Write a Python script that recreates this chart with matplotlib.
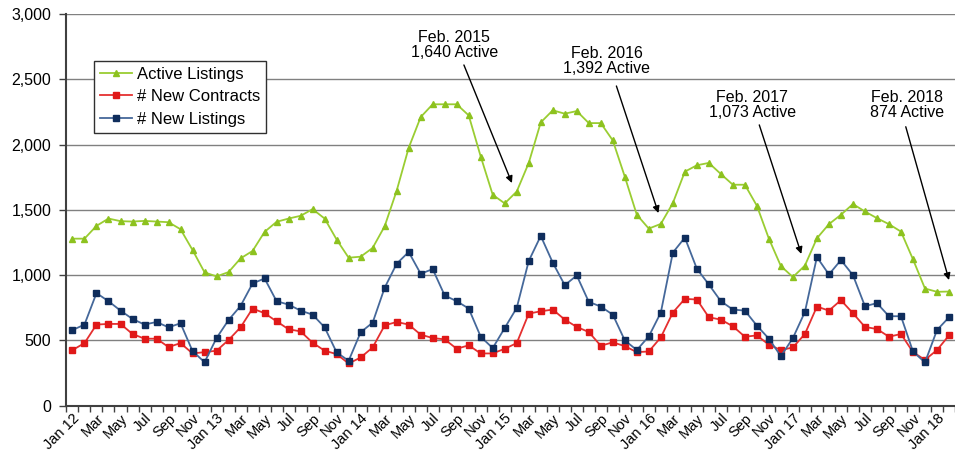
import numpy as np
import matplotlib.pyplot as plt

plt.rcParams['font.family'] = ['Liberation Sans', 'DejaVu Sans']

# monthly series, Jan 2012 .. Feb 2018
active_listings = [
    1279, 1279, 1377, 1433, 1413, 1410, 1415, 1410, 1405, 1351, 1192, 1021,
    990, 1023, 1128, 1185, 1331, 1408, 1433, 1454, 1505, 1433, 1272, 1133,
    1141, 1208, 1374, 1646, 1974, 2210, 2308, 2308, 2308, 2223, 1908, 1615,
    1549, 1640, 1859, 2169, 2262, 2236, 2256, 2164, 2164, 2031, 1754, 1462,
    1356, 1392, 1551, 1792, 1841, 1859, 1774, 1692, 1692, 1531, 1279, 1069,
    985, 1073, 1282, 1390, 1462, 1544, 1487, 1436, 1390, 1333, 1121, 897,
    872, 874,
]
new_contracts = [
    426, 479, 621, 626, 626, 549, 513, 513, 449, 479, 400, 410,
    421, 503, 600, 744, 708, 646, 585, 569, 482, 421, 395, 323,
    369, 446, 615, 641, 621, 544, 518, 508, 436, 462, 400, 400,
    436, 479, 705, 723, 736, 659, 603, 564, 459, 485, 456, 410,
    415, 523, 713, 818, 813, 677, 659, 608, 528, 538, 467, 426,
    446, 549, 759, 728, 808, 708, 603, 587, 528, 549, 410, 351,
    426, 538,
]
new_listings = [
    579, 621, 862, 800, 728, 664, 621, 641, 600, 631, 418, 333,
    518, 656, 764, 936, 974, 800, 774, 728, 697, 600, 408, 344,
    562, 636, 903, 1087, 1177, 1010, 1046, 844, 800, 744, 528, 441,
    595, 749, 1108, 1300, 1095, 923, 997, 795, 759, 697, 500, 426,
    531, 713, 1172, 1287, 1049, 928, 800, 736, 728, 613, 513, 379,
    518, 718, 1138, 1005, 1115, 1000, 762, 785, 685, 685, 415, 331,
    579, 677,
]

# every other month gets a label
tick_labels = [
    "Jan 12", "Mar", "May", "Jul", "Sep", "Nov",
    "Jan 13", "Mar", "May", "Jul", "Sep", "Nov",
    "Jan 14", "Mar", "May", "Jul", "Sep", "Nov",
    "Jan 15", "Mar", "May", "Jul", "Sep", "Nov",
    "Jan 16", "Mar", "May", "Jul", "Sep", "Nov",
    "Jan 17", "Mar", "May", "Jul", "Sep", "Nov",
    "Jan 18",
]

# February callouts: (label, month index, value)
callouts = [
    ("Feb. 2015\n1,640 Active", 37, 1640),
    ("Feb. 2016\n1,392 Active", 49, 1392),
    ("Feb. 2017\n1,073 Active", 61, 1073),
    ("Feb. 2018\n874 Active", 73, 874),
]
# text centre and arrow start/tip for each callout, in (month, value)
callout_text_xy = [(31.8, 2763), (44.5, 2640), (56.6, 2306), (69.5, 2299)]
callout_arrow = [
    ((32.6, 2609), (36.6, 1705)),
    ((45.3, 2448), (48.8, 1475)),
    ((57.2, 2150), (60.7, 1162)),
    ((69.4, 2136), (73.0, 962)),
]

x = np.arange(len(active_listings))

fig = plt.figure(figsize=(9.55, 4.55), dpi=100)
ax = fig.add_axes([0.0696, 0.1084, 0.9304, 0.861])

ax.plot(x, active_listings, color='#9ACD32', lw=1.3, marker='^',
        markersize=5, markerfacecolor='#8DC21F', markeredgecolor='#8DC21F',
        label='Active Listings', zorder=3)
ax.plot(x, new_contracts, color='#E53030', lw=1.3, marker='s',
        markersize=4, markerfacecolor='#E01818', markeredgecolor='#E01818',
        label='# New Contracts', zorder=3)
ax.plot(x, new_listings, color='#45689A', lw=1.3, marker='s',
        markersize=4, markerfacecolor='#0F2D5C', markeredgecolor='#0F2D5C',
        label='# New Listings', zorder=3)

ax.set_ylim(0, 3000)
ax.set_xlim(-0.5, 72.97)
ax.set_yticks(np.arange(0, 3001, 500))
ax.set_yticklabels([f"{v:,}" for v in range(0, 3001, 500)])
ax.yaxis.grid(True, color='#808080', lw=1.0)
ax.set_axisbelow(True)

ax.set_xticks(np.arange(0, 73, 2))
ax.set_xticklabels(tick_labels, rotation=45, ha='right',
                   rotation_mode='anchor')
ax.set_xticks(np.arange(-0.5, 74, 1), minor=True)
ax.tick_params(axis='x', which='major', length=0, pad=4, labelsize=10.5)
ax.tick_params(axis='x', which='minor', length=4, width=1, color='#404040')
ax.tick_params(axis='y', length=5, width=1, color='#404040', pad=6,
               labelsize=11.5)

for side in ('top', 'right'):
    ax.spines[side].set_visible(False)
for side in ('left', 'bottom'):
    ax.spines[side].set_color('#404040')
    ax.spines[side].set_linewidth(1.5)

for (label, _, _), (tx, ty), (start, tip) in zip(callouts, callout_text_xy,
                                                  callout_arrow):
    ax.text(tx, ty, label, ha='center', va='center', fontsize=11.5,
            linespacing=1.0)
    ax.annotate('', xy=tip, xytext=start, annotation_clip=False,
                arrowprops=dict(arrowstyle='-|>', color='black', lw=1.0,
                                mutation_scale=10, shrinkA=0, shrinkB=0))

leg = ax.legend(loc='upper left', bbox_to_anchor=(0.0315, 0.880),
                borderaxespad=0, fontsize=12, fancybox=False, framealpha=1,
                edgecolor='#303030', handlelength=1.9, handletextpad=0.3,
                labelspacing=0.45, borderpad=0.35)
leg.get_frame().set_linewidth(1.0)

fig.savefig('out.png', dpi=100)
